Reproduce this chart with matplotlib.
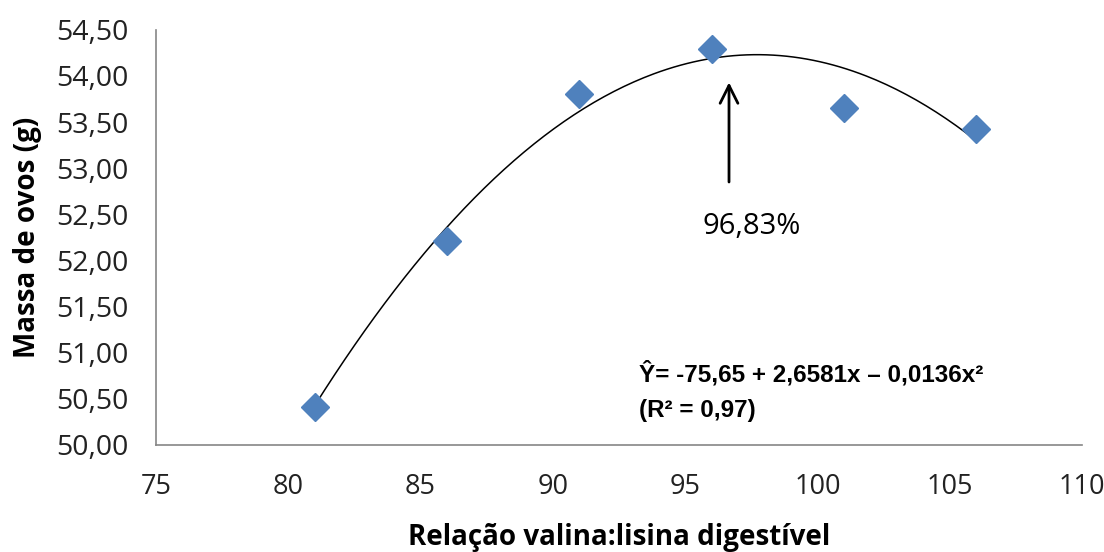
import matplotlib.pyplot as plt
import numpy as np

# valina:lisina ratio and measured egg mass
ratios = [81, 86, 91, 96, 101, 106]
egg_mass = [50.41, 52.21, 53.80, 54.29, 53.65, 53.43]

# quadratic fit shown on the chart: Y = b0 + b1*x + b2*x^2
coef_b0 = -75.65
coef_b1 = 2.6581
coef_b2 = -0.0136

optimum_label = "96,83%"
x_ticks = [75, 80, 85, 90, 95, 100, 105, 110]
y_ticks = [50.0, 50.5, 51.0, 51.5, 52.0, 52.5, 53.0, 53.5, 54.0, 54.5]

plt.rcParams["font.family"] = ["Open Sans", "DejaVu Sans"]

fig = plt.figure(figsize=(11.04, 5.52), dpi=100)
ax = fig.add_axes([0.1413, 0.194, 0.8387, 0.752])

ax.plot(ratios, egg_mass, linestyle="none", marker="D", markersize=14,
        color="#4F81BD", zorder=3)

x_fit = np.linspace(min(ratios), max(ratios), 200)
y_fit = coef_b0 + coef_b1 * x_fit + coef_b2 * x_fit ** 2
ax.plot(x_fit, y_fit, color="black", linewidth=1.1, zorder=2)

ax.annotate("", xy=(96.66, 53.96), xytext=(96.66, 52.82),
            arrowprops=dict(arrowstyle="->", color="black", lw=2,
                            mutation_scale=32))
ax.text(97.5, 52.37, optimum_label, ha="center", va="center", fontsize=21)

eq_font = dict(fontsize=17.5, fontweight="bold",
               family=["Liberation Sans", "DejaVu Sans"])
ax.text(0.522, 0.172, "Ŷ= -75,65 + 2,6581x – 0,0136x²", transform=ax.transAxes,
        ha="left", va="center", **eq_font)
ax.text(0.522, 0.083, "(R² = 0,97)", transform=ax.transAxes,
        ha="left", va="center", **eq_font)

ax.set_xlim(75, 110)
ax.set_ylim(50, 54.5)
ax.set_xticks(x_ticks)
ax.set_yticks(y_ticks)
ax.set_xticklabels([str(t) for t in x_ticks])
ax.set_yticklabels([f"{t:.2f}".replace(".", ",") for t in y_ticks])
ax.tick_params(length=0, colors="#222222")
ax.tick_params(axis="y", pad=20, labelsize=20.5)
ax.tick_params(axis="x", pad=20, labelsize=19.5)

for side in ("top", "right"):
    ax.spines[side].set_visible(False)
for side in ("left", "bottom"):
    ax.spines[side].set_color("#868686")
    ax.spines[side].set_linewidth(1.2)

ax.set_xlabel("Relação valina:lisina digestível", fontsize=20, fontweight="bold",
              labelpad=16)
ax.set_ylabel("Massa de ovos (g)", fontsize=20, fontweight="bold", labelpad=10)

fig.savefig("out.png", dpi=100)
